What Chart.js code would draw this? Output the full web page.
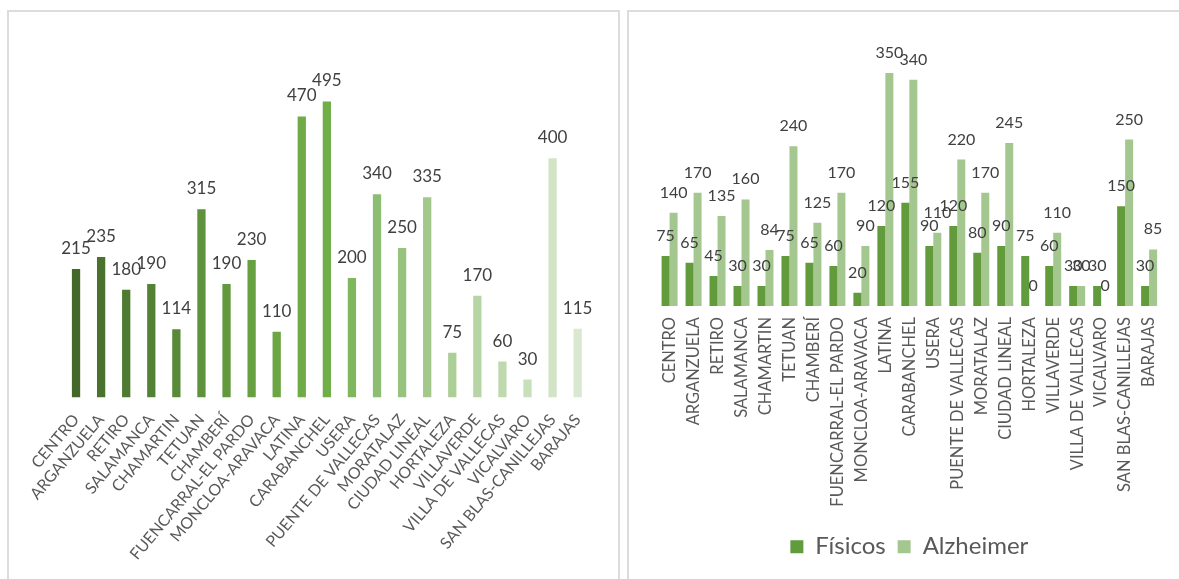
<!DOCTYPE html>
<html>
<head>
<meta charset="utf-8">
<script src="https://cdn.jsdelivr.net/npm/chart.js@4.4.1/dist/chart.umd.min.js"></script>
<style>
    body { margin: 0; background: #fff; width: 1179px; height: 579px; overflow: hidden; position: relative; font-family: Lato, sans-serif; }
    .panel { position: absolute; top: 10px; border: 2px solid #dcdcdc; border-bottom: none; box-sizing: border-box; }
    #left-panel { left: 7px; width: 613px; height: 580px; }
    #right-panel { left: 627px; width: 560px; height: 580px; }
    canvas { position: absolute; }
</style>
</head>
<body>
<div class="panel" id="left-panel"></div>
<div class="panel" id="right-panel"></div>
<canvas id="total-chart" width="611" height="569" style="left:8px; top:10px; width:611px; height:569px;"></canvas>
<canvas id="type-chart" width="551" height="569" style="left:628px; top:10px; width:551px; height:569px;"></canvas>
<script>
const districts = ['CENTRO', 'ARGANZUELA', 'RETIRO', 'SALAMANCA', 'CHAMARTIN', 'TETUAN', 'CHAMBERÍ',
    'FUENCARRAL-EL PARDO', 'MONCLOA-ARAVACA', 'LATINA', 'CARABANCHEL', 'USERA', 'PUENTE DE VALLECAS',
    'MORATALAZ', 'CIUDAD LINEAL', 'HORTALEZA', 'VILLAVERDE', 'VILLA DE VALLECAS', 'VICALVARO',
    'SAN BLAS-CANILLEJAS', 'BARAJAS'];
const totals = [215, 235, 180, 190, 114, 315, 190, 230, 110, 470, 495, 200, 340, 250, 335, 75, 170, 60, 30, 400, 115];
const fisicos = [75, 65, 45, 30, 30, 75, 65, 60, 20, 120, 155, 90, 120, 80, 90, 75, 60, 30, 30, 150, 30];
const alzheimer = [140, 170, 135, 160, 84, 240, 125, 170, 90, 350, 340, 110, 220, 170, 245, 0, 110, 30, 0, 250, 85];
const seriesNames = ['Físicos', 'Alzheimer'];

// one shade per district, dark to light like the Excel monochrome palette
const totalColors = ['#43682b', '#4a722f', '#4f7a32', '#548235', '#598a38', '#5e923b', '#63993d',
    '#67a040', '#6ba643', '#6fab46', '#71ae48', '#80b65e', '#8dbd72', '#98c37f', '#a2c98b',
    '#accf98', '#b6d4a4', '#bfd9af', '#c8dfbb', '#d1e4c6', '#d9e8d0'];

const labelColor = '#595959';
const valueColor = '#404040';

// draws the value above every bar
const valueLabels = {
    id: 'valueLabels',
    afterDatasetsDraw(chart, args, opts) {
        const ctx = chart.ctx;
        ctx.save();
        ctx.font = opts.font;
        ctx.fillStyle = opts.color;
        ctx.textAlign = 'center';
        ctx.textBaseline = 'alphabetic';
        chart.data.datasets.forEach((ds, i) => {
            chart.getDatasetMeta(i).data.forEach((bar, j) => {
                ctx.fillText(String(ds.data[j]), bar.x, bar.y - opts.offset);
            });
        });
        ctx.restore();
    }
};

function fixedXAxis(height) {
    return (scale) => {
        scale.height = height;
        scale.paddingLeft = 0;
        scale.paddingRight = 0;
    };
}

new Chart(document.getElementById('total-chart'), {
    type: 'bar',
    data: {
        labels: districts,
        datasets: [{
            data: totals,
            backgroundColor: totalColors,
            categoryPercentage: 1,
            barPercentage: 0.33
        }]
    },
    plugins: [valueLabels],
    options: {
        responsive: false,
        animation: false,
        layout: { padding: { left: 55.5, right: 28.8, top: 88.5, bottom: 0 } },
        plugins: {
            legend: { display: false },
            tooltip: { enabled: false },
            valueLabels: { font: '17px Lato', color: valueColor, offset: 15 }
        },
        scales: {
            x: {
                grid: { display: false, drawTicks: false },
                border: { display: false },
                ticks: {
                    autoSkip: false,
                    minRotation: 50,
                    maxRotation: 50,
                    padding: 13,
                    color: labelColor,
                    font: { family: 'Lato', size: 16 }
                },
                afterFit: fixedXAxis(181.5)
            },
            y: {
                display: false,
                min: 0,
                max: 500
            }
        }
    }
});

new Chart(document.getElementById('type-chart'), {
    type: 'bar',
    data: {
        labels: districts,
        datasets: [{
            label: seriesNames[0],
            data: fisicos,
            backgroundColor: '#629b3c',
            categoryPercentage: 0.667,
            barPercentage: 1
        }, {
            label: seriesNames[1],
            data: alzheimer,
            backgroundColor: '#a4c78f',
            categoryPercentage: 0.667,
            barPercentage: 1
        }]
    },
    plugins: [valueLabels],
    options: {
        responsive: false,
        animation: false,
        layout: { padding: { left: 29.6, right: 17.9, top: 29.7, bottom: 10.3 } },
        plugins: {
            legend: {
                position: 'bottom',
                labels: {
                    boxWidth: 13,
                    boxHeight: 13,
                    padding: 12,
                    color: labelColor,
                    font: { family: 'Lato', size: 24 }
                }
            },
            tooltip: { enabled: false },
            valueLabels: { font: '16px Lato', color: valueColor, offset: 15 }
        },
        scales: {
            x: {
                grid: { display: false, drawTicks: false },
                border: { display: false },
                ticks: {
                    autoSkip: false,
                    minRotation: 90,
                    maxRotation: 90,
                    padding: 11,
                    color: labelColor,
                    font: { family: 'Lato', size: 16.5 }
                },
                afterFit: fixedXAxis(216.7)
            },
            y: {
                display: false,
                min: 0,
                max: 400
            }
        }
    }
});
</script>
</body>
</html>
